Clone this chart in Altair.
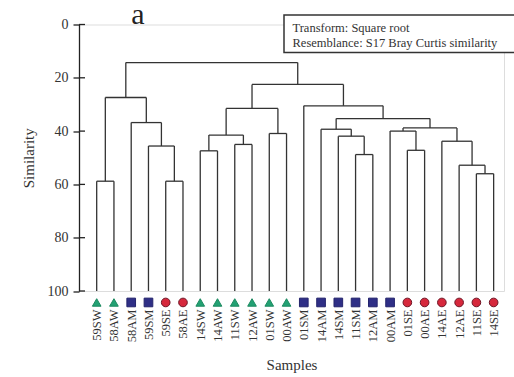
import altair as alt
import pandas as pd

# ---- data ----
leaves = ["59SW", "58AW", "58AM", "59SM", "59SE", "58AE", "14SW", "14AW", "11SW", "12AW",
          "01SW", "00AW", "01SM", "14AM", "14SM", "11SM", "12AM", "00AM", "01SE", "00AE",
          "14AE", "12AE", "11SE", "14SE"]
groups = ["W", "W", "M", "M", "E", "E", "W", "W", "W", "W", "W", "W",
          "M", "M", "M", "M", "M", "M", "E", "E", "E", "E", "E", "E"]

# merges: (id, left child, right child, similarity)
merge_ids = ["m1", "m2", "m3", "m4", "m5", "m6", "m7", "m8", "m9", "m10", "m11", "m12",
             "m13", "m14", "m15", "m16", "m17", "m18", "m19", "m20", "m21", "m22", "m23"]
merge_left = ["59SW", "59SE", "59SM", "58AM", "m1", "14SW", "11SW", "m6", "01SW", "m8",
              "11SM", "14SM", "14AM", "01SE", "00AM", "11SE", "12AE", "14AE", "m15", "m13",
              "01SM", "m10", "m5"]
merge_right = ["58AW", "58AE", "m2", "m3", "m4", "14AW", "12AW", "m7", "00AW", "m9",
               "12AM", "m11", "m12", "00AE", "m14", "14SE", "m16", "m17", "m18", "m19",
               "m20", "m21", "m22"]
merge_sim = [58.8, 58.8, 45.6, 36.8, 27.4, 47.4, 45.0, 41.5, 40.9, 31.5,
             48.8, 41.9, 39.3, 47.2, 40.0, 56.0, 52.8, 43.8, 38.8, 35.3,
             30.5, 22.5, 14.3]

y_ticks = [0, 20, 40, 60, 80, 100]
leaf_level = 100
marker_level = 104.3
box_lines = ["Transform: Square root", "Resemblance: S17 Bray Curtis similarity"]

# ---- build dendrogram segments from the linkage ----
pos = {name: (i, leaf_level) for i, name in enumerate(leaves)}
segs = []
for mid, l, r, h in zip(merge_ids, merge_left, merge_right, merge_sim):
    xl, hl = pos[l]
    xr, hr = pos[r]
    segs.append({"x": xl, "x2": xl, "y": hl, "y2": h})
    segs.append({"x": xr, "x2": xr, "y": hr, "y2": h})
    segs.append({"x": xl, "x2": xr, "y": h, "y2": h})
    pos[mid] = ((xl + xr) / 2, h)
seg_df = pd.DataFrame(segs)

leaf_df = pd.DataFrame({"x": list(range(len(leaves))), "name": leaves,
                        "group": groups, "y": [marker_level] * len(leaves)})
tick_df = pd.DataFrame({"y": y_ticks})

FONT = "Liberation Serif"
label_expr = "[" + ",".join("'%s'" % s for s in leaves) + "][datum.value]"

xscale = alt.Scale(domain=[-1.025, 23.6], nice=False, zero=False)
yscale = alt.Scale(domain=[0, 100], reverse=True, nice=False, zero=False)

xaxis = alt.Axis(values=list(range(len(leaves))), labelExpr=label_expr,
                 labelAngle=-90, domain=False, ticks=False, grid=False,
                 labelOverlap=False, labelBound=False,
                 labelPadding=18, labelFont=FONT, labelFontSize=12.5,
                 labelColor="#333", title="Samples", titleFont=FONT,
                 titleFontSize=15, titleFontWeight="normal",
                 titleColor="#333", titlePadding=16)
yaxis = alt.Axis(values=y_ticks, grid=False, tickSize=6, tickColor="#222",
                 domainColor="#222", domainWidth=1.3, tickWidth=1.3,
                 labelFont=FONT, labelFontSize=14, labelColor="#333",
                 labelPadding=5, title="Similarity", titleFont=FONT,
                 titleFontSize=15, titleFontWeight="normal",
                 titleColor="#333", titlePadding=11)

rules = alt.Chart(seg_df).mark_rule(color="#333333", strokeWidth=1.3).encode(
    x=alt.X("x:Q", scale=xscale, axis=xaxis),
    x2="x2:Q",
    y=alt.Y("y:Q", scale=yscale, axis=yaxis),
    y2="y2:Q",
)

inner_ticks = alt.Chart(tick_df).mark_rule(color="#222", strokeWidth=1.3).encode(
    y=alt.Y("y:Q", scale=yscale, axis=yaxis), x=alt.value(0), x2=alt.value(6)
)

markers = alt.Chart(leaf_df).mark_point(filled=True, size=75, strokeWidth=1, opacity=1).encode(
    x=alt.X("x:Q", scale=xscale, axis=xaxis),
    y=alt.Y("y:Q", scale=yscale, axis=yaxis),
    shape=alt.Shape("group:N", scale=alt.Scale(domain=["W", "M", "E"],
                                               range=["triangle-up", "square", "circle"]),
                    legend=None),
    fill=alt.Fill("group:N", scale=alt.Scale(domain=["W", "M", "E"],
                                             range=["#23a173", "#2f2f86", "#d6283c"]),
                  legend=None),
    stroke=alt.Stroke("group:N", scale=alt.Scale(domain=["W", "M", "E"],
                                                 range=["#1c8a60", "#24246c", "#6e1424"]),
                      legend=None),
)

one = pd.DataFrame({"k": [0]})

title_a = alt.Chart(one).mark_text(
    text="a", font=FONT, fontSize=30, align="center", baseline="alphabetic", color="#222"
).encode(x=alt.value(59), y=alt.value(-1))

box = alt.Chart(one).mark_rect(
    fill="white", stroke="#333", strokeWidth=1.5
).encode(x=alt.value(205), x2=alt.value(460), y=alt.value(-9.5), y2=alt.value(28))

box_text1 = alt.Chart(one).mark_text(
    text=box_lines[0], font=FONT, fontSize=12.5, align="left", baseline="middle", color="#333"
).encode(x=alt.value(213.5), y=alt.value(3))

box_text2 = alt.Chart(one).mark_text(
    text=box_lines[1], font=FONT, fontSize=12.5, align="left", baseline="middle", color="#333"
).encode(x=alt.value(213.5), y=alt.value(18))

chart = alt.layer(rules, inner_ticks, markers, title_a, box, box_text1, box_text2).properties(
    width=425, height=266.5,
    autosize=alt.AutoSizeParams(type="none"),
    padding={"left": 79, "top": 24.5, "right": 10, "bottom": 86},
).configure_view(stroke=None).configure(background="white")

chart.save("out.html", embed_options={"renderer": "svg", "actions": False})
